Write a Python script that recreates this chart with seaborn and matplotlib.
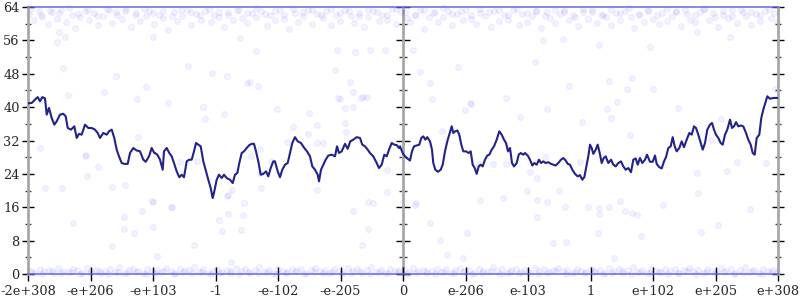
import matplotlib
matplotlib.use("Agg")
import matplotlib.pyplot as plt
import seaborn as sns
import pandas as pd
from matplotlib.ticker import MultipleLocator, FixedLocator

# ---------------- data ----------------
# x axis: ordinal position across the float range (0 .. 750), ticks every 62.5
tick_pos = [0, 62.5, 125, 187.5, 250, 312.5, 375, 437.5, 500, 562.5, 625, 687.5, 750]
tick_labels = ["-2e+308", "-e+206", "-e+103", "-1", "-e-102", "-e-205", "0",
               "e-206", "e-103", "1", "e+102", "e+205", "e+308"]
y_ticks = [0, 8, 16, 24, 32, 40, 48, 56, 64]

line_x = [
    0, 3.7, 7, 9.7, 12, 14.3, 17, 18.7, 21, 23.7, 26.3, 28.7, 32, 35.3, 37.7, 39.7, 43, 46.3, 48.7, 51,
    53.7, 57, 60.3, 63.7, 67, 69.7, 72, 75.3, 78.7, 81, 83.7, 86.3, 88.7, 91, 93.7, 96.3, 99.7, 102, 105.3, 108.7,
    112, 115.3, 117.7, 121, 123.7, 126.3,
    127, 129.3, 132, 134.7, 136, 138.7, 141.3, 143.7, 146, 148.7, 151.3, 153.7, 156, 158.7, 161.3, 163.7, 166, 168, 170.3, 172.7,
    175.3, 178, 180.3, 182.7, 184.7, 186.3, 188.7, 191, 193.7, 196, 198.7, 202, 204.7, 207, 209.3, 211.3, 213.7, 216, 218.7, 221.3,
    223.7, 226, 228, 230.3, 232.7, 235.3, 238, 240.3, 242.7, 245.3,
    247, 249.7, 252, 254.3, 257, 259.7, 262, 264.3, 267, 269.7, 273, 276.3, 279, 282, 284.3, 287, 289.7, 291, 293, 295.3,
    297.7, 300.3, 303.7, 307, 309, 311, 313.7, 317, 319.7, 322.3, 325.3, 328.7, 332, 334.3, 337, 339.7, 342, 345.3, 348.7, 351,
    353.7, 356.3, 358.7, 361, 363.7, 366.3, 368.7, 371,
    372, 374.7, 377, 379.3, 382, 384, 386, 388.7, 391.3, 393.3, 395.3, 397.3, 399.3, 402, 404, 405.3, 407.3, 410, 412.7, 414.7,
    417, 419.3, 421.3, 423.7, 425.3, 427.3, 429.3, 431.3, 433.3, 435.3, 438, 440.7, 442.7, 444.7, 446.7, 448.7, 450.7, 452.7, 454.7, 457,
    459.3, 461.3, 463.7, 466, 468.7, 471.3, 473.7, 476, 478, 480, 482, 484, 486, 488.7, 490.7, 492.7, 495.3,
    497, 499.7, 502, 504.3, 506.3, 508.7, 511, 513, 515.3, 517.7, 520.3, 523, 525.3, 527.7, 530.3, 533, 535.3, 537.7, 539.7, 542,
    544.3, 547, 549.7, 552, 554.3, 556.3, 558.7, 560.3, 562, 563.7, 565.3, 567.7, 569.7, 571.7, 573.7, 575.7, 577.7, 580.3, 583, 585.3,
    587.7, 590.3, 593, 595.3, 597.7, 600.3, 603, 605.3, 607.7, 609.7, 612, 614.3, 617, 619,
    622, 624.7, 627, 628.7, 631.3, 633.7, 636, 638, 640.3, 642.7, 644.7, 646.7, 648.7, 651.3, 653.7, 656, 658.7, 661.3, 663.7, 666,
    668, 670.3, 672.7, 674.7, 677, 679.3, 682, 684, 686, 688, 690.3, 692.7, 694.7, 697, 699.3, 702, 704, 706, 708, 710.3,
    712.7, 715.3, 718, 720.3, 722.7, 724.7, 726.7, 728.7, 731.3, 733.3, 735.3, 737.3, 739.3, 742, 745.3, 750,
]
line_bits = [
    40.9, 41.0, 41.8, 42.4, 41.4, 42.4, 42.1, 38.2, 39.8, 37.4, 35.8, 36.6, 38.2, 38.4, 37.8, 35.0, 34.6, 35.4, 32.6, 33.6,
    33.4, 35.8, 35.0, 35.0, 34.6, 33.8, 32.6, 33.8, 33.4, 34.2, 34.6, 32.6, 29.8, 28.2, 26.6, 26.4, 26.4, 29.0, 30.2, 29.6,
    29.4, 27.4, 26.9, 28.2, 30.2, 29.0,
    29.0, 28.6, 27.4, 25.0, 29.4, 30.2, 29.0, 28.2, 26.6, 24.6, 23.2, 23.8, 23.2, 27.0, 27.4, 27.4, 29.4, 31.4, 31.0, 30.6,
    27.0, 24.6, 22.6, 20.6, 18.2, 19.8, 22.6, 23.8, 23.0, 23.8, 23.0, 22.6, 21.8, 23.8, 24.2, 26.6, 29.0, 29.4, 30.2, 30.9,
    31.2, 31.2, 29.4, 27.0, 23.8, 24.0, 24.6, 23.4, 25.4, 27.0,
    27.0, 24.6, 23.2, 25.0, 26.2, 26.6, 29.0, 31.4, 32.8, 31.8, 31.4, 30.2, 29.4, 28.2, 25.8, 25.0, 23.8, 22.2, 25.0, 26.2,
    27.4, 28.4, 28.6, 28.2, 30.6, 29.0, 29.4, 31.2, 30.0, 31.8, 32.2, 32.8, 32.6, 31.0, 30.6, 29.8, 29.0, 28.2, 26.6, 25.4,
    26.2, 28.6, 28.2, 29.8, 31.4, 31.0, 30.9, 30.2,
    30.6, 29.0, 28.2, 27.7, 27.2, 29.4, 30.6, 30.8, 31.0, 32.6, 33.0, 32.2, 32.8, 31.8, 29.8, 26.6, 25.0, 24.5, 25.0, 26.2,
    29.4, 31.8, 33.4, 35.4, 33.8, 34.2, 34.4, 33.4, 31.0, 29.4, 29.4, 29.0, 29.4, 26.2, 25.4, 24.0, 25.8, 26.2, 25.8, 27.4,
    28.4, 28.6, 29.8, 30.6, 32.2, 34.2, 33.4, 32.2, 31.4, 29.4, 30.2, 26.6, 25.8, 26.6, 28.6, 29.0, 28.6,
    29.0, 28.4, 27.4, 26.0, 26.6, 26.2, 27.4, 26.6, 27.0, 26.6, 26.8, 26.4, 26.2, 26.0, 26.6, 27.4, 27.8, 27.2, 26.4, 26.2,
    25.0, 24.0, 23.4, 23.7, 22.6, 23.2, 26.2, 28.2, 31.0, 30.2, 28.8, 29.8, 31.0, 29.0, 26.6, 27.8, 28.2, 26.6, 27.4, 26.2,
    25.8, 26.6, 27.0, 25.8, 25.0, 25.4, 24.4, 27.4, 27.7, 26.2, 27.8, 26.6, 27.4, 28.6,
    26.9, 26.9, 28.4, 26.4, 25.6, 25.3, 27.0, 28.0, 30.2, 30.6, 32.8, 30.6, 29.4, 30.2, 31.8, 30.4, 32.2, 33.8, 33.4, 35.4,
    35.0, 33.4, 31.4, 29.8, 31.4, 34.6, 35.8, 36.2, 34.6, 33.4, 32.6, 31.4, 31.0, 33.4, 34.6, 37.0, 35.0, 35.4, 36.4, 35.4,
    35.6, 35.4, 33.8, 32.2, 31.0, 29.0, 28.6, 32.6, 33.4, 37.4, 39.4, 41.0, 42.6, 42.0, 42.2, 42.2,
]

# sampled error points (position, bits) - sparse middle region
mid_pts = [
    (35, 49.4), (40, 42.9), (76, 43.6), (88, 47.5), (109, 41.9), (118, 44.8), (160, 49.8), (184, 48.2), (199, 47.5),
    (175, 40), (177, 37.2), (196, 38.4), (219, 45.8), (222, 46.0), (230, 45.1), (228, 53.4), (110, 32.8), (12, 30.2),
    (31, 58), (37, 56.8), (29, 55.6), (125, 56.8), (212, 56.6),
    (17, 20.6), (34, 20.6), (45, 12.2), (59, 23.5), (58, 28.5), (70, 25.6), (84, 20.9), (84, 6.7), (96, 13.7),
    (96, 10.8), (97, 21.3), (106, 9.8), (114, 15.1), (125, 17.3), (125, 11.3), (129, 4.3), (143, 16.1), (152, 26.8),
    (166, 7.0), (191, 12.9), (194, 10.3), (200, 18.9), (200, 14.4), (203, 2.9), (204, 20.1), (213, 10.5), (215, 14.1),
    (216, 17.0), (232, 24.2),
    (309, 53.7), (327, 53.2), (307, 48.9), (322, 46.0), (325, 43.6), (310, 42.2), (333, 42.2), (339, 42.4), (317, 39.8),
    (325, 40), (317, 36.2), (318, 34.0), (342, 53.7), (357, 53.7), (385, 53.7), (392, 48.4), (402, 45.8), (430, 49.6),
    (437, 39.3), (442, 41), (359, 19.7), (340, 17.3), (345, 17.0), (325, 15.1), (387, 16.5), (402, 12.2), (334, 7.0),
    (340, 10.8), (419, 4.6), (412, 8.1), (435, 3.8), (439, 9.8),
    (507, 50.8), (541, 45.1), (581, 46.3), (604, 47.0), (599, 44.3), (625, 44.3), (589, 41.2), (519, 39.5), (579, 39.5),
    (583, 37.4), (554, 36.4), (650, 39.8), (602, 33.3), (622, 54.4), (571, 54.9), (515, 56.1), (535, 56.3), (669, 58),
    (702, 56.8),
    (509, 23.0), (531, 19.9), (509, 17.7), (519, 17.3), (509, 13.7), (537, 16.1), (560, 16.1), (571, 15.8), (571, 14.4),
    (581, 16.1), (592, 17.5), (597, 15.1), (604, 14.6), (609, 14.1), (635, 16.5), (669, 24.2), (670, 19.4), (673, 10.1),
    (690, 11.7), (722, 15.6), (738, 26.6), (570, 9.8), (613, 9.1), (525, 7.4), (538, 7.7), (586, 3.8), (699, 24.7),
    (709, 26.8),
    (140, 41), (249, 39.5), (281, 38.6), (289, 35.7), (312, 41.9), (265, 35.2), (280, 33.6), (57, 28.3), (169, 27.1),
    (232, 30), (223, 28.3), (243, 27.1), (259, 31.6), (289, 31.4), (295, 31.4), (124, 17.5), (144, 16.1), (199, 18.7),
    (233, 20.6), (289, 20.1), (359, 24.9), (335, 42.4),
    (404, 42), (443, 40.7), (478, 42.2), (492, 37.6), (414, 34.3), (451, 26.4), (465, 26.4), (478, 26.4), (499, 19.9),
    (388, 17), (452, 17.7), (475, 18.2),
    (517, 28), (552, 26.8), (502, 24.4), (693, 37.2), (683, 32.1), (747, 44.3),
]

# dense band near the top (almost all bits wrong)
top_pts = [
    (1, 62.4), (6, 60.8), (11, 63.1), (14, 61.7), (20, 59.9), (24, 62.8), (29, 61.2), (33, 63.4), (38, 60.4), (44, 62.1),
    (47, 58.9), (52, 61.6), (57, 63.0), (61, 60.9), (66, 62.5), (70, 59.6), (75, 61.9), (81, 63.2), (84, 60.2), (89, 62.0),
    (94, 61.1), (98, 63.5), (103, 59.3), (108, 62.6), (112, 60.7), (118, 61.8), (121, 63.0), (126, 60.0), (131, 62.2), (135, 61.4),
    (140, 58.6), (146, 62.9), (149, 60.6), (154, 61.9), (159, 63.3), (163, 59.8), (168, 62.4), (173, 61.0), (177, 63.1), (183, 60.3),
    (186, 62.0), (191, 61.5), (196, 59.2), (200, 62.7), (205, 60.8), (211, 63.4), (214, 61.3), (219, 60.1), (224, 62.5), (228, 61.7),
    (233, 63.0), (239, 59.5), (242, 62.1), (247, 60.9), (252, 63.2), (256, 61.2), (261, 58.8), (267, 62.6), (270, 60.5), (275, 61.9),
    (280, 63.3), (284, 60.0), (289, 62.3), (295, 61.4), (298, 63.0), (303, 59.7), (308, 62.0), (312, 60.6), (317, 63.4), (323, 61.8),
    (326, 60.2), (331, 62.5), (336, 59.1), (340, 61.6), (345, 63.1), (351, 60.7), (354, 62.2), (359, 61.0), (364, 63.5), (368, 59.9),
    (373, 62.8), (379, 61.3), (382, 60.4), (387, 62.0), (392, 63.2), (396, 58.7), (401, 61.7), (407, 62.9), (410, 60.3), (415, 61.5),
    (420, 63.0), (424, 59.6), (429, 62.4), (435, 60.9), (438, 63.3), (443, 61.2), (448, 60.0), (452, 62.6), (457, 61.8), (463, 59.3),
    (466, 63.1), (471, 60.6), (476, 62.1), (480, 61.0), (485, 63.4), (491, 59.8), (494, 62.3), (499, 60.4), (504, 61.9), (508, 63.0),
    (513, 59.0), (519, 62.7), (522, 61.3), (527, 60.1), (532, 62.4), (536, 63.2), (541, 60.8), (547, 61.6), (550, 59.4), (555, 62.9),
    (560, 61.1), (564, 63.3), (569, 60.2), (575, 62.0), (578, 61.5), (583, 59.7), (588, 62.6), (592, 60.9), (597, 63.0), (603, 61.7),
    (606, 58.9), (611, 62.2), (616, 60.5), (620, 63.4), (625, 61.2), (631, 59.9), (634, 62.5), (639, 60.7), (644, 61.9), (648, 63.1),
    (653, 59.5), (659, 62.3), (662, 61.0), (667, 60.3), (672, 62.8), (676, 63.5), (681, 60.8), (687, 61.6), (690, 59.2), (695, 62.1),
    (700, 61.4), (704, 63.2), (709, 60.1), (715, 62.7), (718, 61.8), (723, 59.6), (728, 62.4), (732, 60.6), (737, 63.0), (743, 61.3),
    (746, 62.5), (749, 60.4),
]
top2_pts = [
    (3, 63.6), (13, 62.0), (22, 63.0), (31, 62.6), (41, 63.7), (50, 62.3), (60, 63.2), (69, 61.8), (79, 63.5), (88, 62.7),
    (97, 63.0), (107, 62.1), (116, 63.6), (125, 62.5), (135, 63.1), (144, 61.9), (153, 63.4), (163, 62.8), (172, 62.2), (181, 63.6),
    (191, 62.9), (200, 62.0), (209, 63.3), (219, 62.6), (228, 63.7), (237, 62.3), (247, 63.0), (256, 62.0), (265, 63.5), (275, 62.7),
    (284, 63.2), (293, 62.2), (303, 63.6), (312, 62.5), (321, 63.1), (331, 61.9), (340, 63.4), (349, 62.8), (359, 62.2), (368, 63.6),
    (377, 62.9), (387, 62.0), (396, 63.3), (405, 62.6), (415, 63.7), (424, 62.3), (433, 63.0), (443, 62.0), (452, 63.5), (461, 62.7),
    (471, 63.2), (480, 62.2), (489, 63.6), (499, 62.5), (508, 63.1), (517, 61.9), (527, 63.4), (536, 62.8), (545, 62.2), (555, 63.6),
    (564, 62.9), (573, 62.0), (583, 63.3), (592, 62.6), (601, 63.7), (611, 62.3), (620, 63.0), (629, 62.0), (639, 63.5), (648, 62.7),
    (657, 63.2), (667, 62.2), (676, 63.6), (685, 62.5), (695, 63.1), (704, 61.9), (713, 63.4), (723, 62.8), (732, 62.2), (741, 63.6),
]

# dense band near the bottom (almost exact)
bottom_pts = [
    (2, 0.8), (7, 0.3), (12, 1.3), (16, 0.6), (21, 1.0), (26, 0.2), (30, 1.5), (35, 0.7), (40, 0.4), (45, 1.1),
    (49, 0.9), (54, 0.3), (59, 1.4), (63, 0.6), (68, 1.0), (73, 0.2), (77, 0.8), (82, 1.2), (87, 0.5), (91, 1.6),
    (96, 0.3), (101, 0.9), (105, 1.1), (110, 0.6), (115, 0.2), (119, 1.3), (124, 0.7), (129, 1.0), (133, 0.4), (138, 1.5),
    (143, 0.8), (147, 0.3), (152, 1.2), (157, 0.6), (161, 0.9), (166, 1.7), (171, 0.4), (175, 1.1), (180, 0.2), (185, 0.8),
    (189, 1.3), (194, 0.5), (199, 1.0), (203, 0.3), (208, 1.4), (213, 0.7), (217, 1.1), (222, 0.2), (227, 0.9), (231, 1.6),
    (236, 0.5), (241, 1.0), (245, 0.3), (250, 1.2), (255, 0.7), (259, 0.4), (264, 1.3), (269, 0.8), (273, 1.1), (278, 0.2),
    (283, 0.9), (287, 1.5), (292, 0.6), (297, 1.0), (301, 0.3), (306, 1.2), (311, 0.7), (315, 0.4), (320, 1.4), (325, 0.8),
    (329, 1.1), (334, 0.2), (339, 0.9), (343, 1.6), (348, 0.5), (353, 1.0), (357, 0.3), (362, 1.3), (367, 0.6), (371, 0.9),
    (376, 1.2), (381, 0.4), (385, 1.5), (390, 0.7), (395, 1.0), (399, 0.2), (404, 0.8), (409, 1.3), (413, 0.5), (418, 1.1),
    (423, 0.3), (427, 0.9), (432, 1.4), (437, 0.6), (441, 1.0), (446, 0.2), (451, 1.2), (455, 0.7), (460, 0.4), (465, 1.6),
    (469, 0.8), (474, 1.1), (479, 0.3), (483, 0.9), (488, 1.3), (493, 0.5), (497, 1.0), (502, 0.2), (507, 1.4), (511, 0.7),
    (516, 1.1), (521, 0.4), (525, 0.9), (530, 1.5), (535, 0.6), (539, 1.0), (544, 0.3), (549, 1.2), (553, 0.8), (558, 0.4),
    (563, 1.3), (567, 0.7), (572, 1.0), (577, 0.2), (581, 1.4), (586, 0.8), (591, 1.1), (595, 0.3), (600, 0.9), (605, 1.6),
    (609, 0.5), (614, 1.0), (619, 0.3), (623, 1.2), (628, 0.7), (633, 0.4), (637, 1.3), (642, 0.8), (647, 1.1), (651, 0.2),
    (656, 0.9), (661, 1.5), (665, 0.6), (670, 1.0), (675, 0.3), (679, 1.2), (684, 0.7), (689, 0.4), (693, 1.4), (698, 0.8),
    (703, 1.1), (707, 0.2), (712, 0.9), (717, 1.6), (721, 0.5), (726, 1.0), (731, 0.3), (735, 1.3), (740, 0.7), (745, 0.9),
    (749, 0.4),
]
bottom2_pts = [
    (4, 0.4), (14, 0.1), (24, 0.6), (33, 0.2), (43, 0.5), (52, 0.0), (62, 0.3), (71, 0.6), (80, 0.1), (90, 0.4),
    (99, 0.2), (108, 0.5), (118, 0.0), (127, 0.3), (136, 0.6), (146, 0.1), (155, 0.4), (164, 0.2), (174, 0.5), (183, 0.0),
    (192, 0.3), (202, 0.6), (211, 0.1), (220, 0.4), (230, 0.2), (239, 0.5), (248, 0.0), (258, 0.3), (267, 0.6), (276, 0.1),
    (286, 0.4), (295, 0.2), (304, 0.5), (314, 0.0), (323, 0.3), (332, 0.6), (342, 0.1), (351, 0.4), (360, 0.2), (370, 0.5),
    (379, 0.0), (388, 0.3), (398, 0.6), (407, 0.1), (416, 0.4), (426, 0.2), (435, 0.5), (444, 0.0), (454, 0.3), (463, 0.6),
    (472, 0.1), (482, 0.4), (491, 0.2), (500, 0.5), (510, 0.0), (519, 0.3), (528, 0.6), (538, 0.1), (547, 0.4), (556, 0.2),
    (566, 0.5), (575, 0.0), (584, 0.3), (594, 0.6), (603, 0.1), (612, 0.4), (622, 0.2), (631, 0.5), (640, 0.0), (650, 0.3),
    (659, 0.6), (668, 0.1), (678, 0.4), (687, 0.2), (696, 0.5), (706, 0.0), (715, 0.3), (724, 0.6), (734, 0.1), (743, 0.4),
]

# ---------------- styling ----------------
sns.set_theme(style="white")
plt.rcParams["font.family"] = ["DejaVu Serif"]
plt.rcParams["font.size"] = 9.3

LINE_COLOR = "#22228c"
DOT_COLOR = "#0000ff"
AXIS_GRAY = "#a8a8a8"

fig = plt.figure(figsize=(8, 3), dpi=100)
ax = fig.add_axes([28 / 800, 1 - 274 / 300, 750 / 800, 267 / 300])

pts = mid_pts + top_pts + top2_pts + bottom_pts + bottom2_pts
dots = pd.DataFrame(pts, columns=["pos", "bits"])
sns.scatterplot(data=dots, x="pos", y="bits", ax=ax, s=18, color=DOT_COLOR,
                alpha=0.055, edgecolor=DOT_COLOR, linewidth=0.7, legend=False,
                clip_on=False, zorder=2)

line_df = pd.DataFrame({"pos": line_x, "bits": line_bits})
sns.lineplot(data=line_df, x="pos", y="bits", ax=ax, sort=False, estimator=None,
             color=LINE_COLOR, linewidth=1.5, zorder=4)

ax.set_xlim(tick_pos[0], tick_pos[-1])
ax.set_ylim(y_ticks[0], y_ticks[-1])
ax.set_xlabel("")
ax.set_ylabel("")
ax.xaxis.set_major_locator(FixedLocator(tick_pos))
ax.set_xticklabels(tick_labels)
ax.yaxis.set_major_locator(FixedLocator(y_ticks))
ax.yaxis.set_minor_locator(MultipleLocator(4))

for side in ["left", "right"]:
    ax.spines[side].set_color(AXIS_GRAY)
    ax.spines[side].set_linewidth(2)
for side in ["top", "bottom"]:
    ax.spines[side].set_color("#6060e6")
    ax.spines[side].set_linewidth(1.4)
    ax.spines[side].set_alpha(0.75)

ax.tick_params(axis="y", which="major", direction="inout", length=8, width=1,
               color="black", left=True, right=True, pad=2, labelsize=9.3)
ax.tick_params(axis="y", which="minor", direction="inout", length=5, width=1,
               color="#444444", left=True, right=True)
ax.tick_params(axis="x", which="major", direction="inout", length=10, width=1,
               color="black", bottom=True, pad=3, labelsize=9.3)

# centre axis at position 0
sec = ax.secondary_yaxis(0.5)
for sp in sec.spines.values():
    sp.set_color(AXIS_GRAY)
    sp.set_linewidth(2)
sec.yaxis.set_major_locator(FixedLocator(y_ticks))
sec.yaxis.set_minor_locator(MultipleLocator(4))
sec.tick_params(axis="y", which="major", direction="inout", length=10, width=1,
                color="black", labelleft=False, labelright=False)
sec.tick_params(axis="y", which="minor", direction="inout", length=6, width=1,
                color="#444444", labelleft=False, labelright=False)

fig.savefig("out.png", dpi=100)
